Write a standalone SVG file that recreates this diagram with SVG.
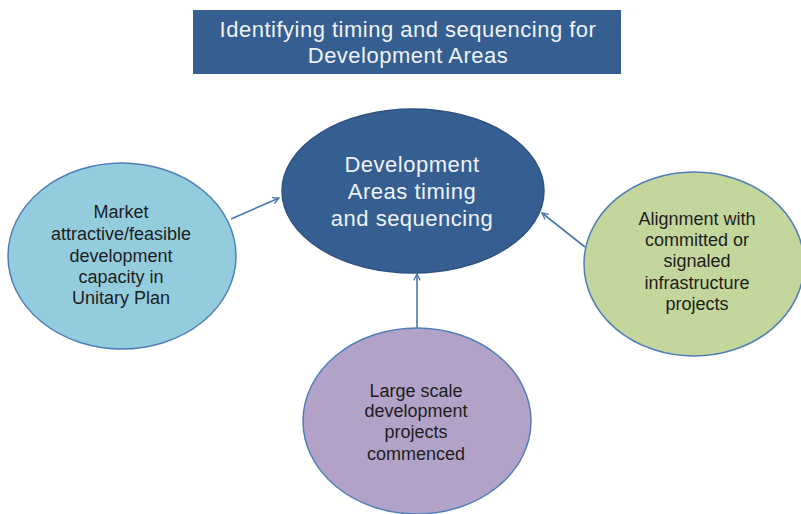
<svg xmlns="http://www.w3.org/2000/svg" width="801" height="514" viewBox="0 0 801 514">
<style>
.t{font-family:"Liberation Sans",Arial,sans-serif;text-anchor:middle}
.w{fill:#eef2f8;font-size:22px;letter-spacing:0.5px}
.d{fill:#1e1e1e;font-size:18px}
.c{fill:none;stroke:#4a76ad;stroke-width:1.6}
</style>
<defs>
<marker id="ah" viewBox="0 0 10 10" refX="9" refY="5" markerWidth="8" markerHeight="8" markerUnits="userSpaceOnUse" orient="auto">
<path d="M1,1 L9,5 L1,9" fill="none" stroke="#4a76ad" stroke-width="1.6"/>
</marker>
</defs>
<rect width="801" height="514" fill="#ffffff"/>
<g id="title">
<rect x="193" y="10" width="428" height="64" fill="#365f91"/>
<text class="t w" x="408" y="37">Identifying timing and sequencing for</text>
<text class="t w" x="408" y="63">Development Areas</text>
</g>
<g id="connectors">
<line class="c" x1="231" y1="219" x2="279" y2="198" marker-end="url(#ah)"/>
<line class="c" x1="417" y1="328" x2="417" y2="274" marker-end="url(#ah)"/>
<line class="c" x1="585" y1="247" x2="542" y2="213" marker-end="url(#ah)"/>
</g>
<g id="center">
<ellipse cx="413" cy="191" rx="131" ry="82" fill="#365f91" stroke="#2e5282" stroke-width="1.5"/>
<text class="t w" x="412" y="172">Development</text>
<text class="t w" x="412" y="199">Areas timing</text>
<text class="t w" x="412" y="226">and sequencing</text>
</g>
<g id="market">
<ellipse cx="122" cy="256" rx="114" ry="93" fill="#93cddd" stroke="#4f7eb8" stroke-width="1.5"/>
<text class="t d" x="121" y="218">Market</text>
<text class="t d" x="121" y="240">attractive/feasible</text>
<text class="t d" x="121" y="262">development</text>
<text class="t d" x="121" y="283">capacity in</text>
<text class="t d" x="121" y="304">Unitary Plan</text>
</g>
<g id="alignment">
<ellipse cx="694" cy="264" rx="110" ry="92" fill="#c3d69b" stroke="#4f7eb8" stroke-width="1.5"/>
<text class="t d" x="697" y="225">Alignment with</text>
<text class="t d" x="697" y="246">committed or</text>
<text class="t d" x="697" y="267">signaled</text>
<text class="t d" x="697" y="289">infrastructure</text>
<text class="t d" x="697" y="310">projects</text>
</g>
<g id="large">
<ellipse cx="417" cy="421" rx="114" ry="93" fill="#b2a2c7" stroke="#4f7eb8" stroke-width="1.5"/>
<text class="t d" x="416" y="397">Large scale</text>
<text class="t d" x="416" y="417">development</text>
<text class="t d" x="416" y="438">projects</text>
<text class="t d" x="416" y="460">commenced</text>
</g>
</svg>
